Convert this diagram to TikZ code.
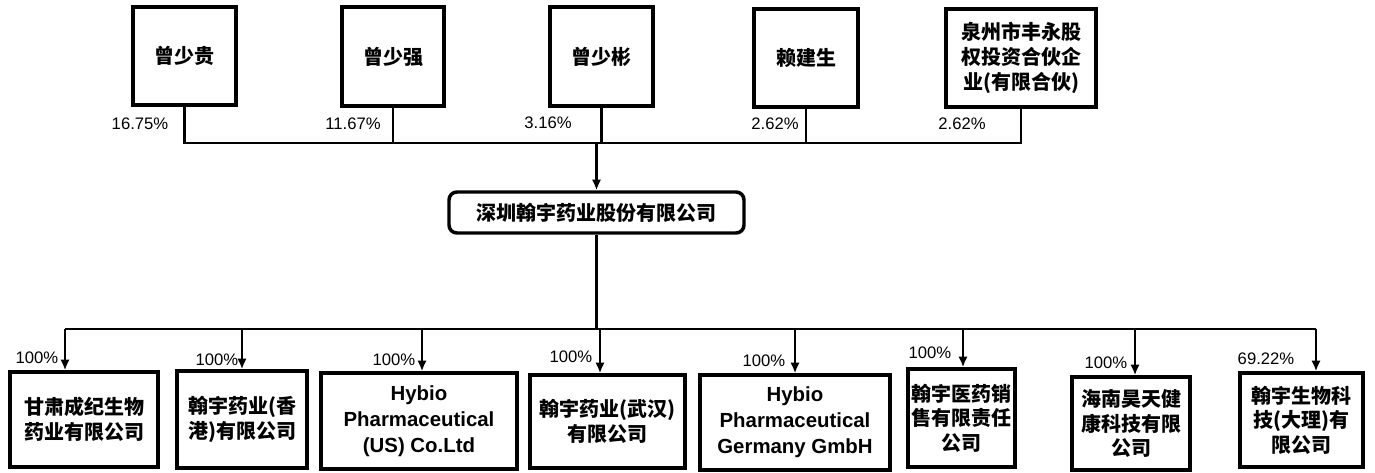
\documentclass[tikz,border=0pt]{standalone}
\usepackage{fontspec}
\setmainfont{Liberation Sans}
\newfontfamily\cjk{Noto Sans CJK SC}
\usetikzlibrary{arrows.meta}
\tikzset{
  box/.style={draw, line width=2.6pt, inner sep=0pt, align=center, font=\cjk\bfseries\fontsize{15}{18.5}\selectfont},
  ebox/.style={box, font=\rmfamily\bfseries\fontsize{15.3}{19.5}\selectfont},
  midbox/.style={box, rounded corners=6pt},
  conn/.style={line width=1.7pt},
  arr/.style={conn, -{Latex[length=8pt,width=7pt]}},
  pct/.style={font=\fontsize{12.5}{14}\selectfont, inner sep=0pt},
}
\newcommand\pbox[7]{\node[#2, minimum width={(#5-#3)*0.75pt}, minimum height={(#6-#4)*0.75pt}] (#1) at ({(#3+#5)/2},{(#4+#6)/2}) {#7};}
\begin{document}
\begin{tikzpicture}[x=0.75pt,y=-0.75pt]
\useasboundingbox (0,0) rectangle (1375,472);
% top shareholders
\pbox{b1}{box}{133}{7}{236}{105}{曾少贵}
\pbox{b2}{box}{342}{7}{444}{106}{曾少强}
\pbox{b3}{box}{550}{7}{653}{106}{曾少彬}
\pbox{b4}{box}{754}{9}{858}{107}{赖建生}
\pbox{b5}{box}{946}{9}{1096}{107}{泉州市丰永股\\权投资合伙企\\业(有限合伙)}
% middle company
\pbox{mid}{midbox}{449}{192}{744}{233}{深圳翰宇药业股份有限公司}
% subsidiaries
\pbox{s1}{box}{10}{372}{158}{467}{甘肃成纪生物\\药业有限公司}
\pbox{s2}{box}{177}{371}{307}{468}{翰宇药业(香\\港)有限公司}
\pbox{s3}{ebox}{321}{373}{517}{469}{Hybio\\Pharmaceutical\\(US) Co.Ltd}
\pbox{s4}{box}{530}{375}{685}{468}{翰宇药业(武汉)\\有限公司}
\pbox{s5}{ebox}{700}{375}{890}{470}{Hybio\\Pharmaceutical\\Germany GmbH}
\pbox{s6}{box}{908}{369}{1015}{467}{翰宇医药销\\售有限责任\\公司}
\pbox{s7}{box}{1072}{377}{1190}{470}{海南昊天健\\康科技有限\\公司}
\pbox{s8}{box}{1240}{373}{1363}{467}{翰宇生物科\\技(大理)有\\限公司}
% top connectors
\coordinate (jt) at (597,143);
\draw[conn] (b1.south) -- (b1.south |- jt) -- (b5.south |- jt) -- (b5.south);
\foreach \n in {b2,b3,b4} \draw[conn] (\n.south) -- (\n.south |- jt);
\draw[arr] (mid.north |- jt) -- (mid.north);
% bottom connectors
\coordinate (jb) at (600,329);
\draw[conn] (mid.south) -- (mid.south |- jb);
\coordinate (a1) at (65,329);
\coordinate (a2) at (242,329);
\coordinate (a3) at (422,329);
\coordinate (a4) at (600,329);
\coordinate (a5) at (795,329);
\coordinate (a6) at (963,329);
\coordinate (a7) at (1135,329);
\coordinate (a8) at (1316,329);
\draw[conn] (a1) -- (a8);
\foreach \i in {1,...,8} \draw[arr] (a\i) -- (a\i |- s\i.north);
% percentages
\node[pct] (p1) at (140,124) {16.75\%};
\node[pct] (p2) at (353,124) {11.67\%};
\node[pct] (p3) at (548,123) {3.16\%};
\node[pct] (p4) at (775,124) {2.62\%};
\node[pct] (p5) at (962,124) {2.62\%};
\node[pct] (q1) at (37,358) {100\%};
\node[pct] (q2) at (217,360) {100\%};
\node[pct] (q3) at (394,360) {100\%};
\node[pct] (q4) at (571,357) {100\%};
\node[pct] (q5) at (764,361) {100\%};
\node[pct] (q6) at (930,353) {100\%};
\node[pct] (q7) at (1106,363) {100\%};
\node[pct] (q8) at (1266,359) {69.22\%};
\end{tikzpicture}
\end{document}
